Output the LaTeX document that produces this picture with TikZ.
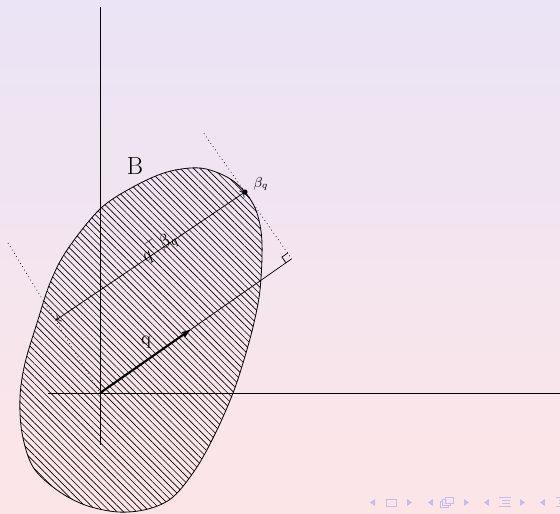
\documentclass[tikz,border=0pt]{standalone}
\usetikzlibrary{patterns.meta,arrows.meta,calc}
\definecolor{bgtop}{RGB}{234,228,246}
\definecolor{bgbot}{RGB}{253,229,231}
\definecolor{navc}{RGB}{198,190,234}
\begin{document}
\begin{tikzpicture}[x=0.625pt,y=-0.625pt,
  axisline/.style={line width=0.5pt},
  dotline/.style={dotted,line width=0.45pt},
  thinline/.style={line width=0.45pt},
  navtri/.style={fill=navc,draw=none},
  navbox/.style={draw=navc,line width=0.6pt,fill=bgbot}]
\useasboundingbox (0,0) rectangle (560,513);
\shade[top color=bgtop,bottom color=bgbot] (0,0) rectangle (560,513);
\begin{scope}
\clip (0,0) rectangle (560,513);
% region B
\draw[pattern={Lines[angle=-45,distance=2.9pt,line width=0.4pt]},line width=0.5pt] plot[smooth cycle,tension=0.55] coordinates {
 (200,168) (227,177) (245,192) (257,213) (262,243) (260,290) (253,327)
 (243,363) (233,393) (217,430) (197,467) (173,497) (148,509) (118,512)
 (85,505) (57,490) (33,467) (22,433) (20,397) (25,363) (37,323) (50,283)
 (67,250) (100,209) (133,187) (167,172)};
% axes
\coordinate (O) at (100,393);
\coordinate (Vt) at (100,7);
\coordinate (Vb) at (100,445);
\coordinate (Hl) at (48,393);
\coordinate (Hr) at (560,393);
\draw[axisline] (Vt) -- (Vb);
\draw[axisline] (Hl) -- (Hr);
% geometry
\coordinate (Q) at ($(O)+(-35:113)$);
\coordinate (F) at ($(O)+(-35:234)$);
\coordinate (Bq) at ($(F)+(-125:81.5)$);
\coordinate (T1) at ($(F)+(-125:153)$);
\coordinate (P) at (56,320);
\coordinate (L) at (8,243);
\coordinate (A1) at ($(F)+(145:7)$);
\coordinate (A2) at ($(A1)+(-125:7)$);
\coordinate (A3) at ($(F)+(-125:7)$);
\draw[thinline] (O) -- (F);
\draw[line width=1.3pt,-{Latex[length=7pt,width=4pt]}] (O) -- (Q);
\draw[dotline] (T1) -- (F);
\draw[dotline] (L) -- (O);
\draw[thinline] (A1) -- (A2) -- (A3);
\draw[thinline,<->] (Bq) -- (P);
\fill (Bq) circle (2.6);
% labels
\node[font=\fontsize{15.5}{18}\selectfont] (Blab) at (135,166) {B};
\node[font=\fontsize{9}{11}\selectfont] (betalab) at (261,184) {$\beta_q$};
\node[rotate=35,font=\fontsize{12}{14}\selectfont] (qtb) at (159,247) {$q^\top\beta_q$};
\node[font=\fontsize{12}{14}\selectfont] (qlab) at (146,342) {q};
% navigation symbols
\fill[navtri] (375,499) -- (375,506) -- (370,502.5) -- cycle;
\draw[navbox] (386,499) rectangle (396,506);
\fill[navtri] (407,499) -- (407,506) -- (412,502.5) -- cycle;
\fill[navtri] (433,499) -- (433,506) -- (428,502.5) -- cycle;
\draw[navbox] (440,501) rectangle (448,507);
\draw[navbox] (442.5,499) rectangle (450.5,505);
\draw[navbox] (445,497) rectangle (453,503);
\fill[navtri] (464,499) -- (464,506) -- (469,502.5) -- cycle;
\fill[navtri] (489,499) -- (489,506) -- (484,502.5) -- cycle;
\fill[navc] (499,496.5) rectangle (511,497.8);
\fill[navc] (502,499.5) rectangle (510,500.8);
\fill[navc] (502,502.5) rectangle (510,503.8);
\fill[navc] (499,505.5) rectangle (511,506.8);
\fill[navtri] (520,499) -- (520,506) -- (525,502.5) -- cycle;
\fill[navtri] (545,499) -- (545,506) -- (540,502.5) -- cycle;
\fill[navc] (556,496.5) rectangle (568,497.8);
\fill[navc] (559,499.5) rectangle (567,500.8);
\fill[navc] (559,502.5) rectangle (567,503.8);
\fill[navc] (556,505.5) rectangle (568,506.8);
\end{scope}
\end{tikzpicture}
\end{document}
